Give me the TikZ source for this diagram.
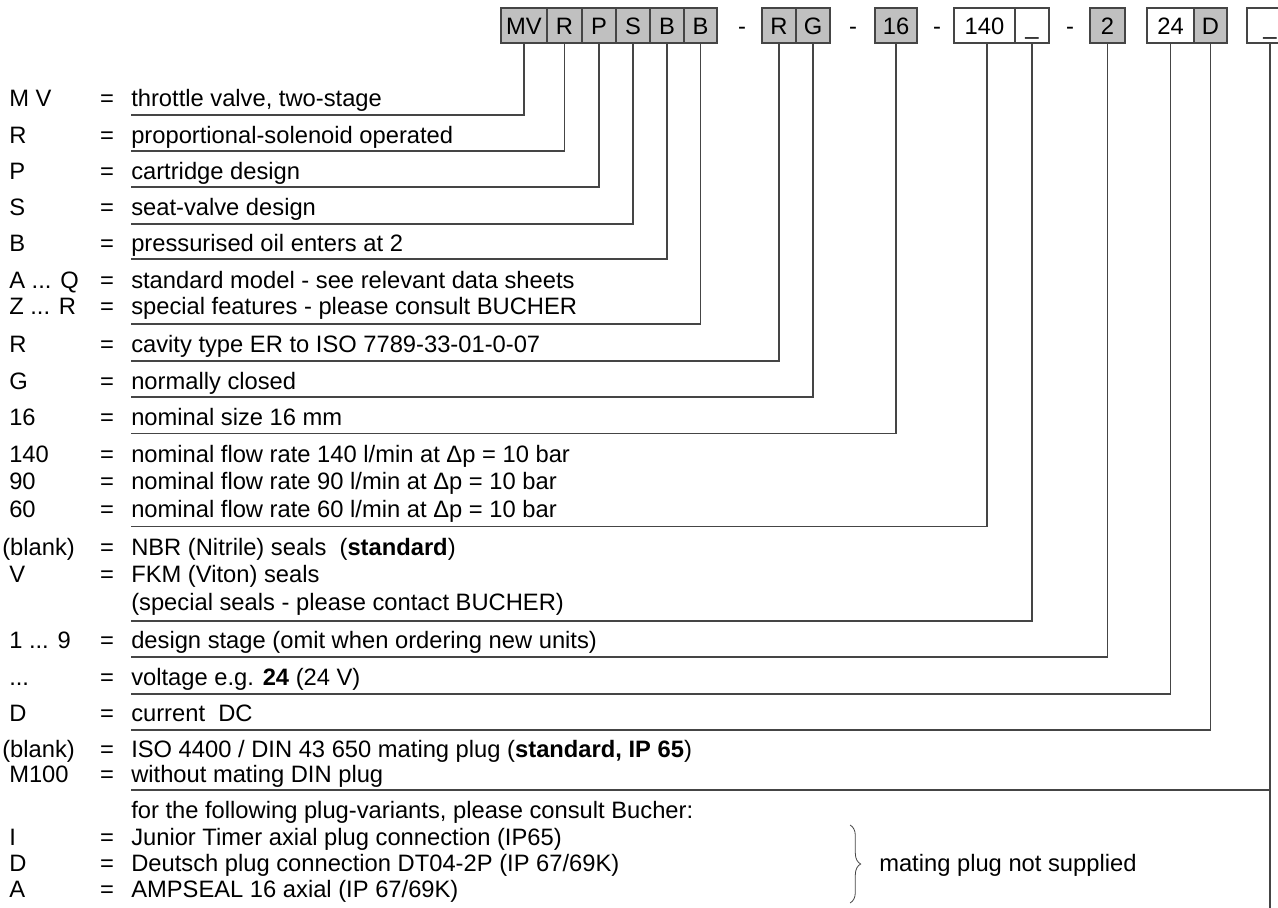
\documentclass[tikz,border=0pt]{standalone}
\usepackage{fontspec}
\setmainfont{Liberation Sans}
\usetikzlibrary{decorations.pathreplacing}
\definecolor{boxgray}{HTML}{C0C0C0}
\definecolor{linegray}{HTML}{454545}
\newcommand\cbox[5]{\node[cb, fill=#4, minimum width={(#3-#2)*0.75pt}] (#1) at ({(#2+#3)/2},25.5) {#5};}
\newcommand\myrow[5]{%
  \node[txt] (k#1) at (#2,#3) {#4};
  \node[txt, anchor=base] (e#1) at (107,#3) {=};
  \node[txt] (d#1) at (131,#3) {#5};}
\begin{document}
\begin{tikzpicture}[x=0.75pt,y=-0.75pt,
  font=\fontsize{17.8}{21}\selectfont,
  cb/.style={draw=linegray, line width=1pt, inner sep=0pt, minimum height=26.25pt,
    text height=12.75pt, text depth=0pt},
  dashtxt/.style={inner sep=0pt, text height=12.75pt, text depth=0pt},
  txt/.style={anchor=base west, inner sep=0pt},
  conn/.style={draw=linegray, line width=1pt}]
\useasboundingbox (0,0) rectangle (1278,907);
% code boxes
\cbox{bMV}{501}{547}{boxgray}{MV}
\cbox{bR}{547}{582}{boxgray}{R}
\cbox{bP}{582}{616}{boxgray}{P}
\cbox{bS}{616}{650}{boxgray}{S}
\cbox{bB}{650}{684}{boxgray}{B}
\cbox{bBB}{684}{717}{boxgray}{B}
\node[dashtxt] (m1) at (742,25.5) {-};
\cbox{bR2}{762}{796}{boxgray}{R}
\cbox{bG}{796}{830}{boxgray}{G}
\node[dashtxt] (m2) at (853,25.5) {-};
\cbox{b16}{875}{917}{boxgray}{16}
\node[dashtxt] (m3) at (937,25.5) {-};
\cbox{b140}{954}{1015}{white}{140}
\cbox{bus}{1015}{1049}{white}{\_}
\node[dashtxt] (m4) at (1070,25.5) {-};
\cbox{b2}{1090}{1125}{boxgray}{2}
\cbox{b24}{1147}{1194}{white}{24}
\cbox{bD}{1194}{1227}{boxgray}{D}
\cbox{bL}{1247}{1293}{white}{\_}
% rows
\myrow{1}{9}{106.5}{M V}{throttle valve, two-stage}
\myrow{2}{9}{143}{R}{proportional-solenoid operated}
\myrow{3}{9}{179.5}{P}{cartridge design}
\myrow{4}{9}{215.5}{S}{seat-valve design}
\myrow{5}{9}{251.5}{B}{pressurised oil enters at 2}
\myrow{6}{9}{288.5}{A ... Q}{standard model - see relevant data sheets}
\myrow{6b}{9}{314.5}{Z ... R}{special features - please consult BUCHER}
\myrow{7}{9}{352.5}{R}{cavity type ER to ISO 7789-33-01-0-07}
\myrow{8}{9}{389.5}{G}{normally closed}
\myrow{9}{9}{425.5}{16}{nominal size 16 mm}
\myrow{10}{9}{462}{140}{nominal flow rate 140 l/min at Δp = 10 bar}
\myrow{10b}{9}{489.5}{90}{nominal flow rate 90 l/min at Δp = 10 bar}
\myrow{10c}{9}{517}{60}{nominal flow rate 60 l/min at Δp = 10 bar}
\myrow{11}{2}{555}{(blank)}{NBR (Nitrile) seals\ \ (\textbf{standard})}
\myrow{11b}{9}{582.5}{V}{FKM (Viton) seals}
\node[txt] (d11c) at (131,610) {(special seals - please contact BUCHER)};
\myrow{12}{9}{648.5}{1 ... 9}{design stage (omit when ordering new units)}
\myrow{13}{9}{685}{...}{voltage e.g. \textbf{24} (24 V)}
\myrow{14}{9}{721}{D}{current\ \ DC}
\myrow{15}{2}{757.5}{(blank)}{ISO 4400 / DIN 43 650 mating plug (\textbf{standard, IP 65})}
\myrow{15b}{9}{782.5}{M100}{without mating DIN plug}
\node[txt] (d16) at (131,818.5) {for the following plug-variants, please consult Bucher:};
\myrow{17}{9}{845.5}{I}{Junior Timer axial plug connection (IP65)}
\myrow{18}{9}{871.5}{D}{Deutsch plug connection DT04-2P (IP 67/69K)}
\myrow{19}{9}{897.5}{A}{AMPSEAL 16 axial (IP 67/69K)}
% brace
\coordinate (brT) at (850,825);
\coordinate (brB) at (850,903);
\draw[draw=linegray, line width=0.6pt, decorate, decoration={brace, amplitude=8pt}] (brT) -- (brB);
\node[txt] (mp) at (879,871.5) {mating plug not supplied};
% underline anchors
\coordinate (u1) at (131,115);
\coordinate (u2) at (131,151);
\coordinate (u3) at (131,187);
\coordinate (u4) at (131,224);
\coordinate (u5) at (131,259);
\coordinate (u6) at (131,324);
\coordinate (u7) at (131,361);
\coordinate (u8) at (131,397);
\coordinate (u9) at (131,433.5);
\coordinate (u10) at (131,526.5);
\coordinate (u11) at (131,621);
\coordinate (u12) at (131,657);
\coordinate (u13) at (131,694);
\coordinate (u14) at (131,730);
\coordinate (u15) at (131,790);
\coordinate (bot) at (1270,910);
% connectors
\draw[conn] (bMV.south) |- (u1);
\draw[conn] (bR.south) |- (u2);
\draw[conn] (bP.south) |- (u3);
\draw[conn] (bS.south) |- (u4);
\draw[conn] (bB.south) |- (u5);
\draw[conn] (bBB.south) |- (u6);
\draw[conn] (bR2.south) |- (u7);
\draw[conn] (bG.south) |- (u8);
\draw[conn] (b16.south) |- (u9);
\draw[conn] ([xshift=1.9pt]b140.south) |- (u10);
\draw[conn] (bus.south) |- (u11);
\draw[conn] (b2.south) |- (u12);
\draw[conn] (b24.south) |- (u13);
\draw[conn] (bD.south) |- (u14);
\draw[conn] (bL.south) -- (bot);
\draw[conn] (u15) -- (u15 -| bL.south);
\end{tikzpicture}
\end{document}
